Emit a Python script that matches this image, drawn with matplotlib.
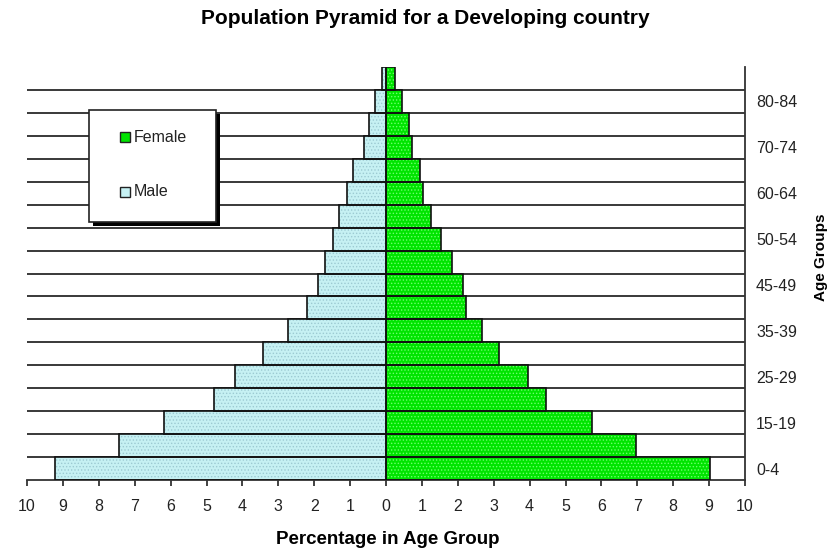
import numpy as np
import matplotlib
matplotlib.use("Agg")
import matplotlib.pyplot as plt
from matplotlib.patches import Rectangle

plt.rcParams['font.family'] = ['Liberation Sans', 'DejaVu Sans']
plt.rcParams['hatch.linewidth'] = 0.6

# ---- data (bottom to top) ----
male = [9.22, 7.43, 6.18, 4.78, 4.21, 3.42, 2.72, 2.19, 1.89, 1.70,
        1.49, 1.30, 1.09, 0.91, 0.60, 0.47, 0.31, 0.10]
female = [9.03, 6.96, 5.75, 4.46, 3.95, 3.15, 2.67, 2.23, 2.14, 1.83,
          1.52, 1.25, 1.04, 0.96, 0.73, 0.65, 0.44, 0.25]
age_tick_labels = ["0-4", "15-19", "25-29", "35-39", "45-49",
                   "50-54", "60-64", "70-74", "80-84"]
x_tick_values = list(range(-10, 11))

W, H = 836, 551
fig = plt.figure(figsize=(W / 100, H / 100), dpi=100)
ax = fig.add_axes([27 / W, 71 / H, 718 / W, 413 / H])

n = len(male)
y = np.arange(n)
male_arr = np.array(male)
fem_arr = np.array(female)

male_face, male_dot = '#c6f1f3', '#9ccad2'
fem_face, fem_dot = '#00e400', '#6cff6c'

# gridlines at bar boundaries
ax.hlines(np.arange(n - 1) + 0.5, -10, 10, color='#2a2a2a', lw=1.3, zorder=1)

# filled + dotted bars
ax.barh(y, -male_arr, height=1.0, color=male_face, edgecolor=male_dot,
        hatch='.....', linewidth=0, zorder=2)
ax.barh(y, fem_arr, height=1.0, color=fem_face, edgecolor=fem_dot,
        hatch='.....', linewidth=0, zorder=2)
# outlines
ax.barh(y, -male_arr, height=1.0, fill=False, edgecolor='#111111', linewidth=1.2, zorder=3)
ax.barh(y, fem_arr, height=1.0, fill=False, edgecolor='#111111', linewidth=1.2, zorder=3)

ax.set_xlim(-10, 10)
ax.set_ylim(-0.5, n - 0.5)

for s in ['left', 'top']:
    ax.spines[s].set_visible(False)
for s in ['bottom', 'right']:
    ax.spines[s].set_color('#333333')
    ax.spines[s].set_linewidth(1.3)

ax.set_xticks(x_tick_values)
ax.set_xticklabels([str(abs(v)) for v in x_tick_values])
ax.tick_params(axis='x', direction='out', length=4, width=1.2, color='#222222',
               pad=10, labelsize=11.5, labelcolor='#222222')

ax.yaxis.tick_right()
ax.set_yticks(np.arange(0, 2 * len(age_tick_labels), 2))
ax.set_yticklabels(age_tick_labels)
ax.tick_params(axis='y', length=0, pad=8, labelsize=11.5, labelcolor='#222222')

ax.set_xlabel('Percentage in Age Group', fontsize=13.5, fontweight='bold')
ax.xaxis.label.set_va('center')
ax.xaxis.set_label_coords((388 - 27) / 718, (480 - 540) / 413)

ax.yaxis.set_label_position('right')
ax.set_ylabel('Age Groups', fontsize=11, fontweight='bold', rotation=90)
ax.yaxis.label.set_va('center')
ax.yaxis.set_label_coords((821 - 27) / 718, (480 - 257) / 413)

fig.text(425 / W, 1 - 19 / H, 'Population Pyramid for a Developing country',
         ha='center', va='center', fontsize=15, fontweight='bold')

# ---- legend (manual, pixel placed) ----
def fx(px):
    return px / W

def fy(py):
    return 1 - py / H

fig.patches.append(Rectangle((fx(93), fy(226)), fx(127), 112 / H, transform=fig.transFigure,
                             facecolor='black', edgecolor='black', lw=0, zorder=5))
fig.patches.append(Rectangle((fx(89), fy(222)), fx(127), 112 / H, transform=fig.transFigure,
                             facecolor='white', edgecolor='#222222', lw=1.2, zorder=6))
for label, face, cy in [('Female', fem_face, 137), ('Male', male_face, 191.5)]:
    fig.patches.append(Rectangle((fx(120), fy(cy + 5)), fx(10), 10 / H,
                                 transform=fig.transFigure, facecolor=face,
                                 edgecolor='#222222', lw=1.0, zorder=7))
    fig.text(fx(134), fy(cy), label, ha='left', va='center', fontsize=11.5,
             color='#222222', zorder=8)

fig.savefig('out.png', dpi=100)
